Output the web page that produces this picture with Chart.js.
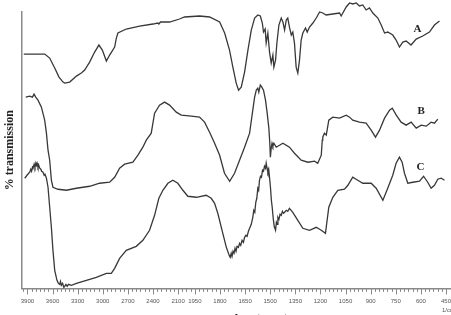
<!DOCTYPE html>
<html><head><meta charset="utf-8">
<script src="https://cdn.jsdelivr.net/npm/chart.js@4"></script>
<style>html,body{margin:0;padding:0;background:#fff;overflow:hidden;}canvas{display:block;}</style>
</head><body>
<canvas id="c" width="451" height="329"></canvas>
<script>
// ---- Data (wavenumber in cm-1, arbitrary transmission units) ----
const seriesNames = ['A', 'B', 'C'];
const nameWn = [620, 598, 602];
const nameVal = [129.5, 88.5, 60.5];

const wnA = [3944,3694,3634,3574,3523,3475,3455,3395,3315,3256,3216,3157,3097,3046,3005,2957,2918,2858,2838,2819,2719,2560,2401,2342,2330,2310,2202,2083,2023,1922,1862,1802,1772,1743,1723,1703,1689,1673,1653,1633,1613,1593,1574,1559,1547,1540,1530,1524,1514,1504,1494,1484,1478,1468,1460,1448,1434,1424,1414,1404,1395,1385,1374,1365,1355,1345,1335,1325,1315,1305,1289,1279,1265,1245,1225,1205,1186,1166,1126,1086,1076,1046,1026,1007,986,967,947,927,907,887,857,837,817,798,768,748,728,708,688,659,628,589,549,519,489];
const tA = [117,117,115,110,105.5,103,102.5,103,106,107.5,109,113,118,121.5,119,113.5,116.5,120.5,125,127.5,129.5,131,132,132.5,132,133,133,134.5,135.5,136,135.5,133,127.5,119,110.5,102.5,99,100.5,108,119,129,135,136.5,136,132.5,128,129.5,122.5,127.5,118,112.5,116.5,110.5,114,122.5,131.5,135,133,129,134,135,130.5,126.5,128,122.5,110.5,107.5,114,124,127.5,130,128,130.5,132.5,135,138,137.5,136.5,137,137.5,136,140.5,142.5,142,142.5,141,141.5,139,140,137.5,135,131.5,127.5,128,126.5,124,120.5,123,123.5,121.5,124.5,126,128,131.5,133.5];

const wnB = [3920,3873,3840,3821,3801,3774,3733,3694,3673,3654,3634,3614,3595,3535,3435,3315,3157,3037,2918,2858,2799,2739,2640,2580,2521,2480,2421,2381,2322,2262,2202,2122,2062,1971,1922,1892,1862,1832,1802,1773,1742,1713,1683,1653,1623,1604,1593,1583,1574,1568,1559,1550,1540,1528,1518,1508,1502,1499,1494,1489,1484,1478,1464,1424,1385,1355,1315,1275,1235,1216,1195,1189,1186,1176,1165,1150,1126,1086,1046,1026,1007,967,927,897,871,847,817,787,771,747,718,688,658,628,598,568,539,519,499];
const tB = [95.5,96,95.5,97,95.5,94,90.5,84,77.5,69,64,54,50.5,49.5,49,50,51,52.5,53,55.5,60,62,63,66.5,70.5,74,77.5,87.5,91.5,93,91.5,88,86.5,86,85.5,83,78,72.5,66.5,57.5,53.5,57.5,64,70.5,77.5,89,95.5,99,100,98,101.5,100.5,99,94,87.5,80,72,65.5,70,72.5,71,72.5,70.5,72.5,70.5,67.5,64,63,63.5,62.5,66.5,74,75.5,77.5,76.5,84,85.5,85,86.5,85.5,84,83,82.5,79,75.5,79,85,89,90,86.5,83,81.5,83,80,81.5,81,83,82.5,84.5];

const wnC = [3932,3905,3885,3873,3860,3850,3840,3833,3820,3810,3800,3793,3785,3774,3765,3753,3740,3730,3714,3700,3690,3673,3654,3634,3614,3595,3574,3547,3530,3515,3505,3495,3480,3465,3455,3440,3425,3410,3375,3315,3196,3077,2957,2898,2858,2799,2719,2600,2521,2441,2381,2330,2282,2222,2163,2103,2043,1992,1941,1882,1852,1832,1813,1783,1762,1745,1739,1733,1728,1722,1716,1710,1704,1698,1690,1683,1676,1668,1660,1653,1645,1638,1630,1623,1613,1604,1598,1592,1586,1580,1574,1569,1564,1558,1552,1546,1540,1534,1528,1524,1519,1514,1509,1504,1498,1493,1488,1482,1476,1468,1463,1458,1454,1448,1441,1434,1427,1420,1414,1404,1395,1385,1365,1335,1305,1265,1225,1195,1170,1150,1126,1096,1056,1036,1007,977,947,897,867,827,798,768,748,728,712,698,678,648,608,584,559,539,519,499,479,459];
const tC = [55,56.5,57.5,58,59.5,58.5,60.5,60,62,60.5,62.5,61.5,62.5,60.5,61.5,60,59.5,58.5,58,56.5,57,55,50.5,40.5,30.5,19,9,4,2.5,2,3.5,1.5,2.5,0.5,1,2,1,2,1.5,2.5,4,5.5,7.5,7.5,10,15,19,21,24,29,36.5,45,49,52.5,54,52.5,49,46,45.5,46.5,45,42.5,37.5,27.5,20.5,16.5,15.5,17.5,16,18.5,17.5,20,18.5,21,20.5,22.5,21.5,24,23,25.5,26.5,26,28.5,30,32,35.5,39,38,43,45,50,49,54,56,55.5,59,58.5,61,60,62.5,60,58,59.5,55.5,50,44,40.5,35,31,29,33,32,35.5,34.5,37,36.5,38.5,37.5,38,39,38.5,40,38,34,30,29,30.5,29,27.5,40.5,45.5,49,49.5,51.5,55.5,54,52.5,52.5,50,44,50,56.5,62.5,65.5,63,57.5,52.5,53,53.5,56,53,50,51.5,54.5,55,54];

const tickLabelWns = [3900,3600,3300,3000,2700,2400,2100,1950,1800,1650,1500,1350,1200,1050,900,750,600,450];
const xTitle = 'Wavenumber (cm-1)';
const yTitle = '% transmission';
const unitLabel = '1/cm';
const xMinWn = 3972, xMaxWn = 424;

// ---- Split wavenumber axis: 12 cm-1/unit above 2000, 6 cm-1/unit below ----
function toU(w) { return w >= 2000 ? (4000 - w) / 12 : 166.667 + (2000 - w) / 6; }
const tickWns = [];
for (let w = 3950; w >= 2000; w -= 50) tickWns.push(w);
for (let w = 1975; w >= 450; w -= 25) tickWns.push(w);
const majorSet = new Set(tickLabelWns);

const mk = (wn, t) => wn.map((w, i) => ({ x: toU(w), y: t[i] }));
const lineStyle = { borderColor: '#383838', borderWidth: 1.3, pointRadius: 0, tension: 0, fill: false, clip: false };

const decor = {
  id: 'decor',
  afterDraw(chart) {
    const { ctx, scales: { x, y } } = chart;
    ctx.save();
    ctx.strokeStyle = '#8a8a8a'; ctx.lineWidth = 1;
    x.ticks.forEach((t, i) => {
      const px = Math.round(x.getPixelForValue(t.value)) + 0.5;
      const major = majorSet.has(tickWns[i]);
      ctx.beginPath(); ctx.moveTo(px, y.bottom); ctx.lineTo(px, y.bottom + (major ? 6 : 3.5)); ctx.stroke();
    });
    ctx.fillStyle = '#222';
    ctx.font = 'bold 11px "Liberation Serif", serif';
    ctx.textAlign = 'center'; ctx.textBaseline = 'middle';
    seriesNames.forEach((n, i) => ctx.fillText(n, x.getPixelForValue(toU(nameWn[i])), y.getPixelForValue(nameVal[i])));
    ctx.font = '6px "Liberation Sans Narrow", "Liberation Sans", sans-serif';
    ctx.fillStyle = '#555'; ctx.textAlign = 'left';
    ctx.fillText(unitLabel, x.getPixelForValue(toU(450)) - 4, y.bottom + 22);
    ctx.restore();
  }
};

new Chart(document.getElementById('c'), {
  type: 'line',
  data: {
    datasets: [
      { label: seriesNames[0], data: mk(wnA, tA), ...lineStyle },
      { label: seriesNames[1], data: mk(wnB, tB), ...lineStyle },
      { label: seriesNames[2], data: mk(wnC, tC), ...lineStyle }
    ]
  },
  options: {
    responsive: false, animation: false, devicePixelRatio: 1,
    layout: { padding: { top: 12, left: 0, right: 0, bottom: 0 } },
    plugins: { legend: { display: false }, tooltip: { enabled: false } },
    scales: {
      x: {
        type: 'linear', min: toU(xMinWn), max: toU(xMaxWn),
        afterBuildTicks: s => { s.ticks = tickWns.map(w => ({ value: toU(w) })); },
        ticks: {
          autoSkip: false, maxRotation: 0, minRotation: 0, padding: 0, color: '#555',
          font: { family: '"Liberation Sans Narrow", "Liberation Sans", sans-serif', size: 6 },
          callback: (v, i) => majorSet.has(tickWns[i]) ? String(tickWns[i]) : ''
        },
        grid: { display: true, drawOnChartArea: false, drawTicks: true, tickLength: 9, color: 'rgba(0,0,0,0)' },
        border: { display: true, color: '#8a8a8a', width: 1.5 },
        title: { display: true, text: xTitle, color: '#222', font: { family: '"Liberation Serif", serif', size: 12, weight: 'bold' }, padding: { top: 8, bottom: 2 } }
      },
      y: {
        type: 'linear', min: 0, max: 138,
        ticks: { display: false },
        grid: { display: false, drawTicks: false, tickLength: 0 },
        border: { display: true, color: '#8a8a8a', width: 1.5 },
        title: { display: true, text: yTitle, color: '#222', font: { family: '"Liberation Serif", serif', size: 12, weight: 'bold' }, padding: { top: 3, bottom: 4 } }
      }
    }
  },
  plugins: [decor]
});
</script>
</body></html>
